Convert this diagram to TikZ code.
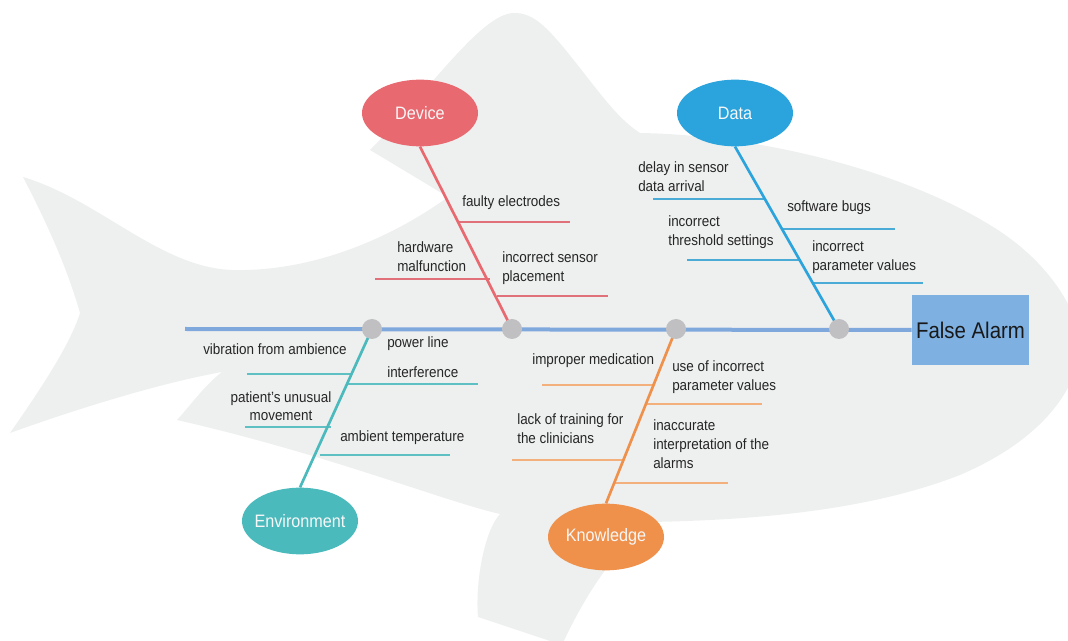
\documentclass[tikz,border=0pt]{standalone}
\usepackage{fontspec}
\setmainfont{Liberation Sans}[FakeStretch=0.9]
\usetikzlibrary{shapes.geometric}
\definecolor{fishgray}{RGB}{238,239,239}
\definecolor{spinec}{RGB}{127,168,220}
\definecolor{jointc}{RGB}{192,192,194}
\definecolor{devc}{RGB}{232,105,112}
\definecolor{devl}{RGB}{224,112,122}
\definecolor{datac}{RGB}{43,163,220}
\definecolor{datal}{RGB}{74,172,214}
\definecolor{envc}{RGB}{75,186,189}
\definecolor{envl}{RGB}{95,192,195}
\definecolor{knc}{RGB}{239,145,75}
\definecolor{knl}{RGB}{244,176,124}
\definecolor{boxc}{RGB}{126,176,226}
\tikzset{
  cat/.style={ellipse, minimum width=87pt, minimum height=50pt, inner sep=0pt,
    text=white!94!gray, font=\fontsize{13.5pt}{15pt}\selectfont},
  joint/.style={circle, fill=jointc, minimum size=15pt, inner sep=0pt},
  mainb/.style={line width=2pt},
  subb/.style={line width=1.5pt},
  lbl/.style={inner sep=0pt, text=black!85, font=\fontsize{11.2pt}{14.5pt}\selectfont},
}
\begin{document}
\begin{tikzpicture}[x=0.75pt,y=-0.75pt]
\useasboundingbox (0,0) rectangle (1068,641);
\clip (0,0) rectangle (1068,641);
% fish silhouette
\fill[fishgray] (23,177) .. controls (100,200) and (160,268) .. (233,270)
  .. controls (320,272) and (400,232) .. (448,197)
  .. controls (420,180) and (395,165) .. (370,150)
  .. controls (430,90) and (480,15) .. (513,13)
  .. controls (535,12) and (550,30) .. (580,68)
  .. controls (605,100) and (620,120) .. (640,133)
  .. controls (760,135) and (900,170) .. (990,225)
  .. controls (1040,255) and (1075,300) .. (1082,345)
  .. controls (1075,400) and (1030,445) .. (960,475)
  .. controls (870,510) and (760,520) .. (650,522)
  .. controls (615,550) and (585,595) .. (562,645)
  -- (478,617)
  .. controls (475,580) and (485,530) .. (500,514)
  .. controls (440,500) and (330,455) .. (177,420)
  .. controls (195,400) and (205,385) .. (222,372)
  .. controls (150,385) and (60,415) .. (10,433)
  .. controls (40,390) and (70,345) .. (80,313)
  .. controls (65,260) and (40,210) .. (23,177) -- cycle;
% nodes
\node[draw=none, fill=boxc, minimum width=87.75pt, minimum height=52.5pt, inner sep=0pt,
  font=\fontsize{17pt}{19pt}\selectfont, text=black!90] (fa) at (970.5,330) {False Alarm};
\coordinate (tail) at (185,329);
\draw[spinec, line width=3pt] (tail) -- (fa.west);
% sub branches
\draw[devl, subb] (458,222) coordinate (d1a) -- (570,222) coordinate (d1b);
\draw[devl, subb] (375,279) coordinate (d2a) -- (490,279) coordinate (d2b);
\draw[devl, subb] (497,296) coordinate (d3a) -- (608,296) coordinate (d3b);
\draw[datal, subb] (653,199) coordinate (a1a) -- (765,199) coordinate (a1b);
\draw[datal, subb] (783,229) coordinate (a2a) -- (895,229) coordinate (a2b);
\draw[datal, subb] (687,260) coordinate (a3a) -- (800,260) coordinate (a3b);
\draw[datal, subb] (813,283) coordinate (a4a) -- (923,283) coordinate (a4b);
\draw[envl, subb] (247,374) coordinate (e1a) -- (352,374) coordinate (e1b);
\draw[envl, subb] (348,384) coordinate (e2a) -- (478,384) coordinate (e2b);
\draw[envl, subb] (245,427) coordinate (e3a) -- (331,427) coordinate (e3b);
\draw[envl, subb] (320,455) coordinate (e4a) -- (450,455) coordinate (e4b);
\draw[knl, subb] (542,385) coordinate (k1a) -- (654,385) coordinate (k1b);
\draw[knl, subb] (646,404) coordinate (k2a) -- (762,404) coordinate (k2b);
\draw[knl, subb] (512,460) coordinate (k3a) -- (623,460) coordinate (k3b);
\draw[knl, subb] (614,483) coordinate (k4a) -- (728,483) coordinate (k4b);
% category ellipses (text in zero-width box so the ellipse keeps its size)
\node[cat, fill=devc] (dev) at (420,113) {\makebox[0pt]{Device}};
\node[cat, fill=datac] (dat) at (735,113) {\makebox[0pt]{Data}};
\node[cat, fill=envc] (env) at (300,521) {\makebox[0pt]{Environment}};
\node[cat, fill=knc] (kno) at (606,537) {\makebox[0pt]{Knowledge}};
% joints positions
\coordinate (j1c) at (372,329);
\coordinate (j2c) at (512,329);
\coordinate (j3c) at (676,329);
\coordinate (j4c) at (839,329);
% main branches
\draw[devc, mainb] (dev.south) -- (j2c);
\draw[datac, mainb] (dat.south) -- (j4c);
\draw[envc, mainb] (env.north) -- (j1c);
\draw[knc, mainb] (kno.north) -- (j3c);
\node[joint] (j1) at (j1c) {};
\node[joint] (j2) at (j2c) {};
\node[joint] (j3) at (j3c) {};
\node[joint] (j4) at (j4c) {};
% labels (base = baseline of last line)
\node[lbl, anchor=base west] (t1) at (462,207) {faulty electrodes};
\node[lbl, anchor=base west, align=left] (t2) at (397,272) {hardware\\malfunction};
\node[lbl, anchor=base west, align=left] (t3) at (502,282) {incorrect sensor\\placement};
\node[lbl, anchor=base west, align=left] (t4) at (638,192) {delay in sensor\\data arrival};
\node[lbl, anchor=base west] (t5) at (787,212) {software bugs};
\node[lbl, anchor=base west, align=left] (t6) at (668,246) {incorrect\\threshold settings};
\node[lbl, anchor=base west, align=left] (t7) at (812,271) {incorrect\\parameter values};
\node[lbl, anchor=base west] (t8) at (203,355) {vibration from ambience};
\node[lbl, anchor=base west, align=left] (t9) at (387,378) {power line\\[8pt]interference};
\node[lbl, anchor=base, align=center] (t10) at (281,421) {patient's unusual\\[-1pt]movement};
\node[lbl, anchor=base west] (t11) at (340,442) {ambient temperature};
\node[lbl, anchor=base west] (t12) at (532,365) {improper medication};
\node[lbl, anchor=base west, align=left] (t13) at (672,391) {use of incorrect\\parameter values};
\node[lbl, anchor=base west, align=left] (t14) at (517,444) {lack of training for\\the clinicians};
\node[lbl, anchor=base west, align=left] (t15) at (653,469) {inaccurate\\interpretation of the\\alarms};
\end{tikzpicture}
\end{document}
